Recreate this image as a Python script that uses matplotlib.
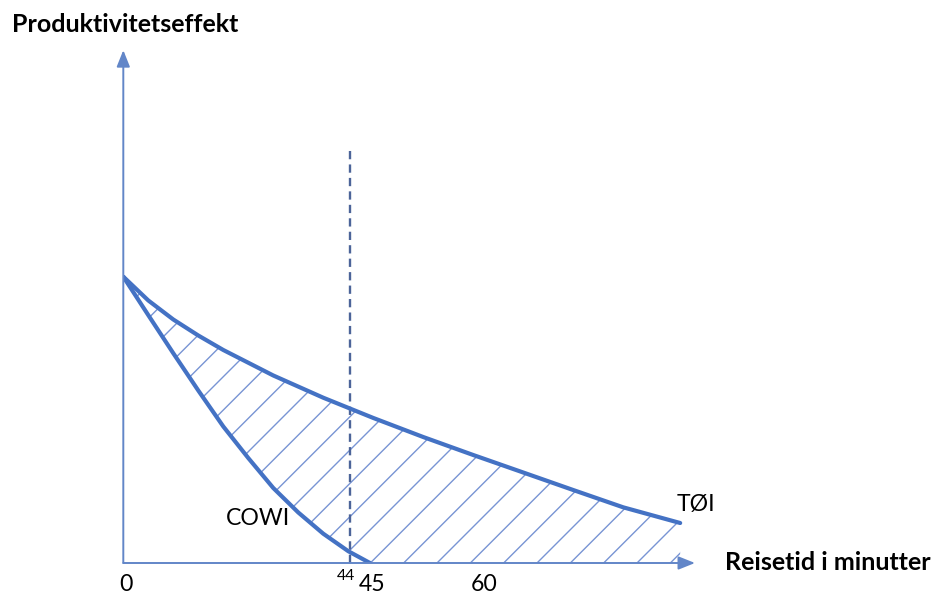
import matplotlib.pyplot as plt
import numpy as np

# Curves (x in minutes, y in arbitrary productivity units)
toi_x = [0.0, 4.17, 8.33, 12.5, 16.67, 25.0, 33.33, 41.67, 50.0, 58.33, 66.67, 75.0, 83.33, 92.83]
toi_y = [55.27, 50.68, 47.01, 43.92, 41.12, 36.20, 31.91, 28.00, 24.32, 20.85, 17.47, 14.09, 10.75, 7.72]

cowi_x = [0.0, 4.17, 8.33, 12.5, 16.67, 20.83, 25.0, 29.17, 33.33, 37.5, 41.12]
cowi_y = [55.27, 47.84, 40.50, 33.30, 26.35, 20.27, 14.48, 9.75, 5.66, 2.28, 0.0]

dashed_x = 37.8
dashed_top = 80.0

tick_pos = [0.4, 37.1, 41.4, 60.1]
tick_labels = ['0', '44', '45', '60']
tick_small = [False, True, False, False]

line_col = '#4472C4'
axis_col = '#6286c8'
hatch_col = '#7894d4'
dash_col = '#4c6499'

plt.rcParams['font.family'] = ['Lato', 'DejaVu Sans']
plt.rcParams['hatch.linewidth'] = 0.5

fig = plt.figure(figsize=(4.69, 2.98), dpi=200)
ax = fig.add_axes([123.3 / 938, 33 / 596, (695 - 123.3) / 938, 518 / 596])
ax.set_xlim(0, 95.3)
ax.set_ylim(0, 100)
ax.axis('off')

# hatched area between the two curves
poly_x = np.concatenate([toi_x, [toi_x[-1]], cowi_x[::-1]])
poly_y = np.concatenate([toi_y, [0.0], cowi_y[::-1]])
ax.fill(poly_x, poly_y, facecolor='none', edgecolor=hatch_col, hatch='//', linewidth=0)

# axes with arrows
arrow = dict(arrowstyle='-|>,head_length=0.5,head_width=0.2', color=axis_col, lw=0.7,
             shrinkA=0, shrinkB=0)
ax.annotate('', xy=(1, 0), xytext=(0, 0), xycoords='axes fraction', arrowprops=arrow)
ax.annotate('', xy=(0, 0.99), xytext=(0, 0), xycoords='axes fraction', arrowprops=arrow)

ax.plot([dashed_x, dashed_x], [0, dashed_top], color=dash_col, lw=0.85, dashes=(3.5, 2.2))

ax.plot(toi_x, toi_y, color=line_col, lw=1.5, solid_capstyle='round', solid_joinstyle='round')
ax.plot(cowi_x, cowi_y, color=line_col, lw=1.5, solid_capstyle='round', solid_joinstyle='round')

ax.text(92.3, 11.2, 'TØI', fontsize=8.3, ha='left', va='center')
ax.text(22.4, 8.5, 'COWI', fontsize=8.3, ha='center', va='center')

for pos, lab, small in zip(tick_pos, tick_labels, tick_small):
    if small:
        ax.text(pos, -2.6, lab, fontsize=5.7, ha='center', va='center', clip_on=False)
    else:
        ax.text(pos, -4.2, lab, fontsize=8.3, ha='center', va='center', clip_on=False)

fig.text(12 / 938, 1 - 25 / 596, 'Produktivitetseffekt', fontsize=9.0, fontweight='bold',
         ha='left', va='center')
fig.text(725 / 938, 1 - 563 / 596, 'Reisetid i minutter', fontsize=9.0, fontweight='bold',
         ha='left', va='center')

fig.savefig('out.png', dpi=200)
